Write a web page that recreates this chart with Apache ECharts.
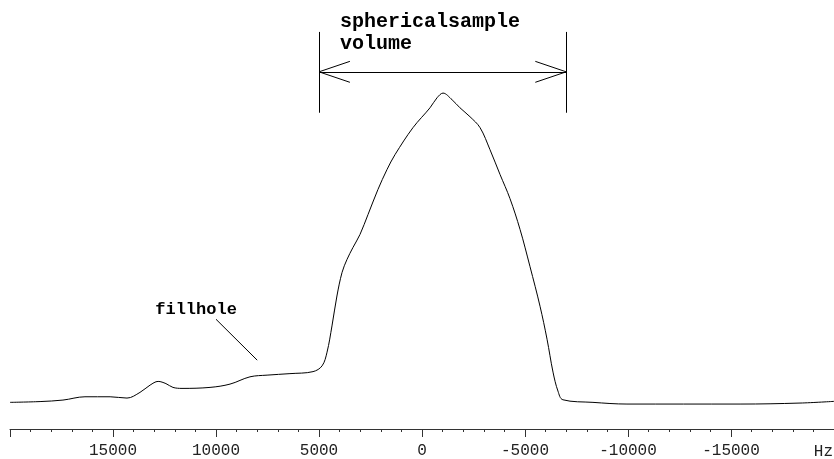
<!DOCTYPE html>
<html>
<head>
<meta charset="utf-8">
<script src="https://cdn.jsdelivr.net/npm/echarts@6/dist/echarts.min.js"></script>
<style>
html,body{margin:0;padding:0;background:#fff;}
#chart{width:834px;height:459px;}
</style>
</head>
<body>
<div id="chart"></div>
<script>
// Frequency (Hz) and signal intensity (arbitrary units)
const freqHz = [20000, 18540, 17430, 16360, 15140, 14320, 13690, 13200, 12810, 12430, 12090, 11650, 10290, 9320, 8350, 7520, 6410, 5290, 4850, 4610, 4370, 4130, 3880, 3640, 3350, 3010, 2620, 2140, 1700, 1310, 440, -390, -730, -1020, -1460, -1840, -2330, -2820, -3300, -3790, -4270, -4760, -5240, -5730, -6070, -6360, -6600, -6840, -8300, -9950, -15440, -18350, -20000];
const intensity = [26.7, 27.5, 29, 32.3, 32.3, 31, 36.7, 44, 47.7, 45.5, 41.7, 40.7, 41.7, 45, 52.3, 54, 55.5, 57.5, 63.3, 77, 103.3, 133.3, 157, 170, 182, 195, 215, 240, 260, 275, 302, 322, 332, 336.7, 330, 322, 313, 302, 280, 255, 231, 200, 163, 123, 90, 57, 38, 29.3, 26.7, 25, 25, 26, 27.7];

// Axis
const axisMin = -20000, axisMax = 20000, axisStep = 5000;
const unitLabel = 'Hz';

// Annotations (data units)
const volumeStart = 5000, volumeEnd = -7000;
const volumeBarTop = 398, volumeBarBottom = 317, volumeArrowY = 358;
const arrowHeadDx = 1500, arrowHeadDy = 10.5;
const volumeText = 'sphericalsample\nvolume';
const volumeTextAt = [3980, 397];
const fillText = 'fillhole';
const fillTextAt = [12950, 120];
const fillPointer = [[10000, 110], [8000, 69]];

const chart = echarts.init(document.getElementById('chart'));
const seriesData = freqHz.map((f, i) => [f, intensity[i]]);

const seg = (a, b) => [{coord: a}, {coord: b}];
const annoLines = [
  seg([volumeStart, volumeBarTop], [volumeStart, volumeBarBottom]),
  seg([volumeEnd, volumeBarTop], [volumeEnd, volumeBarBottom]),
  seg([volumeStart, volumeArrowY], [volumeEnd, volumeArrowY]),
  seg([volumeStart, volumeArrowY], [volumeStart - arrowHeadDx, volumeArrowY + arrowHeadDy]),
  seg([volumeStart, volumeArrowY], [volumeStart - arrowHeadDx, volumeArrowY - arrowHeadDy]),
  seg([volumeEnd, volumeArrowY], [volumeEnd + arrowHeadDx, volumeArrowY + arrowHeadDy]),
  seg([volumeEnd, volumeArrowY], [volumeEnd + arrowHeadDx, volumeArrowY - arrowHeadDy]),
  seg(fillPointer[0], fillPointer[1])
];

const mono = "'Liberation Mono', 'Courier New', monospace";

chart.setOption({
  animation: false,
  backgroundColor: '#fff',
  grid: {left: 10, right: 0, top: 0, bottom: 29},
  xAxis: {
    type: 'value',
    inverse: true,
    min: axisMin, max: axisMax, interval: axisStep,
    axisLine: {lineStyle: {color: '#333', width: 1}},
    axisTick: {show: true, length: 8, lineStyle: {color: '#333'}},
    minorTick: {show: true, splitNumber: 5, length: 3, lineStyle: {color: '#333'}},
    splitLine: {show: false},
    minorSplitLine: {show: false},
    axisLabel: {
      fontFamily: mono, fontSize: 16, color: '#222', margin: 14,
      showMinLabel: false, showMaxLabel: false,
      formatter: v => String(v)
    }
  },
  yAxis: {type: 'value', min: 0, max: 430, show: false},
  series: [
    {
      type: 'line',
      data: seriesData,
      smooth: 0.35,
      showSymbol: false,
      lineStyle: {color: '#000', width: 1},
      silent: true
    },
    {
      type: 'line',
      data: [],
      silent: true,
      markLine: {
        silent: true,
        symbol: 'none',
        label: {show: false},
        lineStyle: {color: '#000', width: 1, type: 'solid'},
        data: annoLines
      },
      markPoint: {
        silent: true,
        symbol: 'circle',
        symbolSize: 0,
        label: {
          show: true, position: 'right', distance: 0,
          fontFamily: mono, fontWeight: 'bold', color: '#000'
        },
        data: [
          {coord: volumeTextAt, label: {formatter: volumeText, fontSize: 20, lineHeight: 22}},
          {coord: fillTextAt, label: {formatter: fillText, fontSize: 17}}
        ]
      }
    }
  ],
  graphic: [{
    type: 'text', right: 1, top: 444,
    style: {text: unitLabel, font: "16px " + mono, fill: '#222'}
  }]
});
</script>
</body>
</html>
